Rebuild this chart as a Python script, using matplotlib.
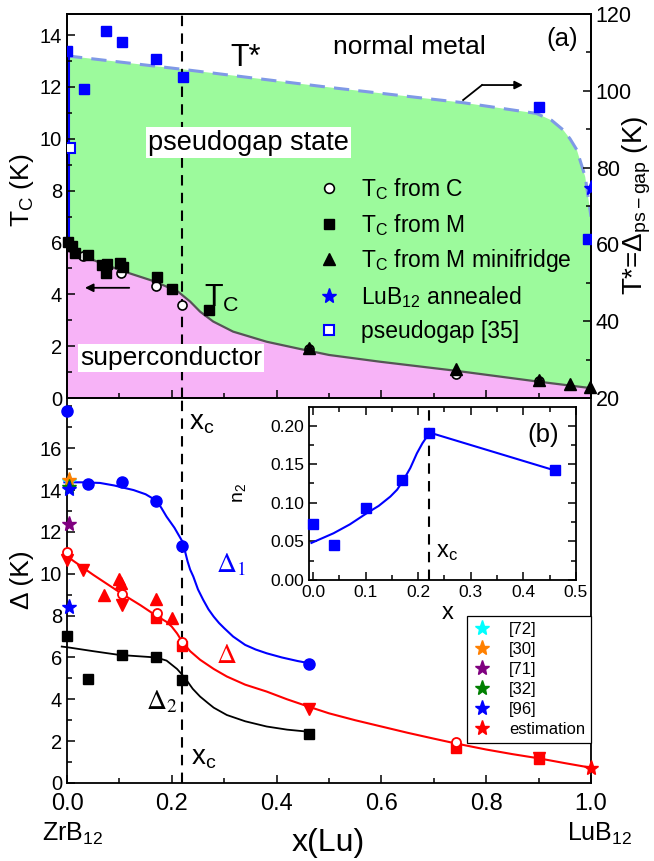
import numpy as np
import matplotlib
matplotlib.use('Agg')
import matplotlib.pyplot as plt
from matplotlib.lines import Line2D
from matplotlib.ticker import MultipleLocator

plt.rcParams['font.family'] = ['Liberation Sans', 'DejaVu Sans']
plt.rcParams['mathtext.fontset'] = 'custom'
plt.rcParams['mathtext.rm'] = 'Liberation Sans'
plt.rcParams['mathtext.it'] = 'Liberation Sans:italic'
plt.rcParams['mathtext.bf'] = 'Liberation Sans:bold'

# ---- panel (a): Tc and T* ----
tc_C_x = [0.031, 0.104, 0.170, 0.219, 0.461, 0.742, 0.901]
tc_C_y = [5.48, 4.84, 4.32, 3.59, 1.90, 0.93, 0.66]
tc_M_x = [0.002, 0.009, 0.015, 0.041, 0.067, 0.074, 0.076, 0.101, 0.106, 0.171, 0.201, 0.271]
tc_M_y = [6.00, 5.87, 5.61, 5.52, 5.13, 4.84, 5.17, 5.20, 5.05, 4.68, 4.20, 3.40]
tc_mf_x = [0.461, 0.742, 0.901, 0.960, 0.998]
tc_mf_y = [1.92, 1.11, 0.69, 0.53, 0.44]

tc_curve_x = [0.0, 0.041, 0.104, 0.168, 0.212, 0.235, 0.254, 0.279, 0.317, 0.381,
              0.445, 0.50, 0.597, 0.742, 0.90, 1.0]
tc_curve_y = [5.69, 5.39, 4.91, 4.49, 4.10, 3.72, 3.33, 2.95, 2.56, 2.17,
              1.89, 1.66, 1.40, 1.05, 0.63, 0.38]

# T* boundary (right axis, K)
tstar_curve_x = [0.0, 0.22, 0.5, 0.756, 0.896, 0.925, 0.947, 0.960, 0.973, 0.989, 1.0]
tstar_curve_y = [109.1, 105.6, 100.9, 96.9, 94.1, 92.3, 89.8, 87.5, 84.6, 77.6, 67.2]

tstar_x = [0.0, 0.032, 0.074, 0.105, 0.170, 0.221, 0.900, 0.995]
tstar_y = [110.4, 100.4, 115.6, 112.6, 108.3, 103.7, 95.9, 61.5]
annealed_x = [1.0]
annealed_y = [74.7]
pg35_x = [0.005]
pg35_y = [85.0]

# ---- panel (b): gaps ----
d1_x = [0.0, 0.041, 0.105, 0.170, 0.220, 0.461]
d1_y = [17.8, 14.3, 14.37, 13.5, 11.34, 5.69]
d1_curve_x = [-0.005, 0.0, 0.03, 0.063, 0.09, 0.11, 0.127, 0.15, 0.171, 0.18, 0.19,
              0.205, 0.22, 0.225, 0.23, 0.235, 0.241, 0.25, 0.26, 0.27, 0.28, 0.29,
              0.30, 0.317, 0.34, 0.36, 0.381, 0.41, 0.44, 0.461]
d1_curve_y = [14.37, 14.37, 14.37, 14.34, 14.22, 14.1, 14.0, 13.8, 13.49, 13.15, 12.73,
              12.2, 11.55, 11.1, 10.6, 10.2, 9.87, 9.25, 8.75, 8.3, 7.95, 7.65,
              7.4, 7.0, 6.6, 6.38, 6.2, 6.0, 5.83, 5.73]

d_open_x = [0.0, 0.105, 0.171, 0.220, 0.742]
d_open_y = [11.06, 9.04, 8.11, 6.76, 1.94]
d_sq_x = [0.170, 0.220, 0.742, 0.900]
d_sq_y = [7.87, 6.55, 1.69, 1.15]
d_down_x = [0.0, 0.031, 0.105, 0.461, 0.900]
d_down_y = [10.67, 10.16, 8.52, 3.56, 1.20]
d_up_x = [0.100, 0.104, 0.070, 0.170, 0.200]
d_up_y = [9.74, 9.55, 9.00, 8.80, 7.87]
d_curve_x = [0.0, 0.05, 0.105, 0.14, 0.17, 0.19, 0.20, 0.21, 0.22, 0.235, 0.254, 0.28,
             0.305, 0.34, 0.381, 0.42, 0.461, 0.50, 0.55, 0.60, 0.65, 0.70, 0.74,
             0.80, 0.85, 0.90, 0.95, 1.0]
d_curve_y = [10.83, 9.95, 9.04, 8.5, 8.0, 7.7, 7.47, 7.15, 6.75, 6.3, 5.89, 5.45,
             5.09, 4.7, 4.37, 4.0, 3.65, 3.33, 3.0, 2.7, 2.4, 2.12, 1.9,
             1.6, 1.38, 1.18, 0.95, 0.73]

d2_x = [0.0, 0.04, 0.105, 0.17, 0.22, 0.461]
d2_y = [7.04, 4.98, 6.12, 6.04, 4.93, 2.34]
d2_curve_x = [-0.01, 0.0, 0.05, 0.1, 0.17, 0.19, 0.2, 0.21, 0.22, 0.23, 0.24, 0.254,
              0.27, 0.28, 0.305, 0.34, 0.381, 0.42, 0.461]
d2_curve_y = [6.52, 6.49, 6.3, 6.12, 6.0, 5.85, 5.65, 5.45, 5.17, 4.85, 4.5, 4.13,
              3.8, 3.6, 3.25, 2.95, 2.7, 2.55, 2.45]

# literature stars at x = 0 and estimation at x = 1
ref_labels = ['[72]', '[30]', '[71]', '[32]', '[96]', 'estimation']
ref_colors = ['#00ffff', '#ff8000', '#800080', '#008000', '#0000ff', '#ff0000']
ref_x = [[0.003], [0.003], [0.003], [0.003], [0.003, 0.003], [1.0]]
ref_y = [[14.45], [14.5], [12.37], [14.15], [14.04, 8.43], [0.72]]

# ---- inset: n2 ----
n2_x = [0.0, 0.04, 0.1, 0.17, 0.22, 0.46]
n2_y = [0.072, 0.045, 0.093, 0.13, 0.19, 0.142]
n2_curve_x = [-0.003, 0.039, 0.07, 0.102, 0.125, 0.147, 0.16, 0.172, 0.185, 0.1975,
              0.208, 0.2165, 0.226, 0.461]
n2_curve_y = [0.048, 0.0605, 0.072, 0.0864, 0.096, 0.108, 0.117, 0.1295, 0.145, 0.164,
              0.177, 0.1856, 0.19, 0.1416]

x_c = 0.22

W, H = 654, 861
fig = plt.figure(figsize=(W / 100, H / 100), dpi=100)


def box(l, t, r, b):
    return [l / W, 1 - b / H, (r - l) / W, (b - t) / H]


ax1 = fig.add_axes(box(67, 14, 591, 398))
ax3 = fig.add_axes(box(67, 398, 591, 783))
ax1.set_zorder(2)
ax1.patch.set_visible(False)
ax2 = ax1.twinx()

left_lim = (0, 14.81)
right_lim = (20, 120)


def to_left(v):
    v = np.asarray(v)
    return (v - right_lim[0]) / (right_lim[1] - right_lim[0]) * (left_lim[1] - left_lim[0])


tstar_left = to_left(tstar_curve_y)

# fills
ax1.fill_between(tc_curve_x, 0, tc_curve_y, color='#f7b3f7', lw=0, zorder=0)
ax1.fill(np.concatenate([tc_curve_x, tstar_curve_x[::-1]]),
         np.concatenate([tc_curve_y, tstar_left[::-1]]),
         color='#9cfa9c', lw=0, zorder=0)
ax1.plot(tstar_curve_x, tstar_left, color='#7f99e6', lw=2.2, dashes=(5, 3), zorder=1)
ax1.plot([tstar_curve_x[0] + 0.003] * 2, [tc_curve_y[0], tstar_left[0]],
         color='blue', lw=1.5, zorder=1)
ax1.plot(tc_curve_x, tc_curve_y, color='#555555', lw=1.6, zorder=2)
ax1.axvline(x_c, color='black', lw=1.5, dashes=(5, 3.5), zorder=3)

ax1.plot(tc_C_x, tc_C_y, 'o', mfc='white', mec='black', mew=1.2, ms=6.5, zorder=4)
ax1.plot(tc_M_x, tc_M_y, 's', color='black', ms=7, zorder=5, clip_on=False)
ax1.plot(tc_mf_x, tc_mf_y, '^', color='black', ms=8, zorder=6, clip_on=False)

ax2.plot(tstar_x, tstar_y, 's', color='blue', ms=7, zorder=5)
ax2.plot(annealed_x, annealed_y, '*', color='blue', ms=11, zorder=5)
ax2.plot(pg35_x, pg35_y, 's', mfc='white', mec='blue', mew=1.5, ms=6.5, zorder=5)

ax1.set_xlim(0, 1)
ax1.set_ylim(*left_lim)
ax2.set_ylim(*right_lim)
ax1.yaxis.set_major_locator(MultipleLocator(2))
ax1.yaxis.set_minor_locator(MultipleLocator(1))
ax1.xaxis.set_major_locator(MultipleLocator(0.2))
ax1.xaxis.set_minor_locator(MultipleLocator(0.1))
ax2.yaxis.set_major_locator(MultipleLocator(20))
ax2.yaxis.set_minor_locator(MultipleLocator(10))
ax1.tick_params(axis='both', which='both', direction='in', labelbottom=False,
                top=False, right=False, labelsize=14.5, width=1.1)
ax1.tick_params(which='major', length=6)
ax1.tick_params(which='minor', length=3.5)
ax2.tick_params(axis='y', which='both', direction='in', labelsize=15.5, width=1.1)
ax2.tick_params(which='major', length=6)
ax2.tick_params(which='minor', length=3.5)
for a in (ax1, ax2, ax3):
    for s in a.spines.values():
        s.set_linewidth(1.3)

ax1.text(-0.085, 0.54, 'T$_\\mathrm{C}$ (K)', transform=ax1.transAxes, rotation=90,
         ha='center', va='center', fontsize=19)
fig.text(621 / W, 1 - 205 / H, 'T*=$\\Delta_{\\mathrm{ps-gap}}$ (K)', rotation=90,
         ha='left', va='center', fontsize=20)

ax1.text(0.507, 0.915, 'normal metal', transform=ax1.transAxes, fontsize=19,
         ha='left', va='center')
ax1.text(0.975, 0.935, '(a)', transform=ax1.transAxes, fontsize=18.5, ha='right',
         va='center')
ax1.text(0.311, 0.885, 'T*', transform=ax1.transAxes, fontsize=22, ha='left', va='center')
ax1.text(0.155, 0.665, 'pseudogap state', transform=ax1.transAxes, fontsize=19.5,
         ha='left', va='center', zorder=7,
         bbox=dict(facecolor='white', edgecolor='none', pad=1.5))
ax1.text(0.025, 0.105, 'superconductor', transform=ax1.transAxes, fontsize=19,
         ha='left', va='center', zorder=7,
         bbox=dict(facecolor='white', edgecolor='none', pad=1.5))
ax1.text(0.262, 0.258, 'T$_\\mathrm{C}$', transform=ax1.transAxes, fontsize=22,
         ha='left', va='center', zorder=7)
ax1.annotate('', xy=(0.029, 4.25), xytext=(0.124, 4.25),
             arrowprops=dict(arrowstyle='-|>', color='black', lw=1.3,
                             mutation_scale=12), zorder=7)
ax2.plot([0.756, 0.792], [97.6, 101.5], color='black', lw=1.3, zorder=7)
ax2.annotate('', xy=(0.870, 101.5), xytext=(0.792, 101.5),
             arrowprops=dict(arrowstyle='-|>', color='black', lw=1.3,
                             mutation_scale=12, shrinkA=0, shrinkB=0), zorder=7)

handles = [
    Line2D([], [], ls='none', marker='o', mfc='white', mec='black', mew=1.2, ms=7),
    Line2D([], [], ls='none', marker='s', color='black', ms=7),
    Line2D([], [], ls='none', marker='^', color='black', ms=8),
    Line2D([], [], ls='none', marker='*', color='blue', ms=11),
    Line2D([], [], ls='none', marker='s', mfc='white', mec='blue', mew=1.5, ms=6.5),
]
labels = ['T$_\\mathrm{C}$ from C', 'T$_\\mathrm{C}$ from M',
          'T$_\\mathrm{C}$ from M minifridge', 'LuB$_{12}$ annealed', 'pseudogap [35]']
leg = ax2.legend(handles, labels, loc='upper left', bbox_to_anchor=(0.46, 0.607),
                 frameon=False, fontsize=16.5, handlelength=0.8, handletextpad=1.0,
                 labelspacing=0.42, borderpad=0.0)

# ---- bottom panel ----
ax3.axvline(x_c, color='black', lw=1.5, dashes=(5, 3.5), zorder=1)
ax3.plot(d1_curve_x, d1_curve_y, color='blue', lw=1.5, zorder=2, clip_on=False)
ax3.plot(d_curve_x, d_curve_y, color='red', lw=1.5, zorder=2, clip_on=False)
ax3.plot(d2_curve_x, d2_curve_y, color='black', lw=1.3, zorder=2, clip_on=False)
ax3.plot(d1_x, d1_y, 'o', color='blue', ms=8, zorder=4, clip_on=False)
ax3.plot(d_up_x, d_up_y, '^', color='red', ms=8, zorder=4, clip_on=False)
ax3.plot(d_down_x, d_down_y, 'v', color='red', ms=8, zorder=4, clip_on=False)
ax3.plot(d_sq_x, d_sq_y, 's', color='red', ms=7, zorder=4, clip_on=False)
ax3.plot(d_open_x, d_open_y, 'o', mfc='white', mec='red', mew=1.3, ms=6.5, zorder=5,
         clip_on=False)
ax3.plot(d2_x, d2_y, 's', color='black', ms=7, zorder=4, clip_on=False)
star_handles = []
for lab, col, sx, sy in zip(ref_labels, ref_colors, ref_x, ref_y):
    h, = ax3.plot(sx, sy, '*', color=col, ms=11, zorder=6, clip_on=False, label=lab)
    star_handles.append(h)

ax3.set_xlim(0, 1)
ax3.set_ylim(0, 18.4)
ax3.yaxis.set_major_locator(MultipleLocator(2))
ax3.yaxis.set_minor_locator(MultipleLocator(1))
ax3.xaxis.set_major_locator(MultipleLocator(0.2))
ax3.xaxis.set_minor_locator(MultipleLocator(0.1))
ax3.tick_params(axis='both', which='both', direction='in', top=False, right=False,
                width=1.1)
ax3.tick_params(which='major', length=6)
ax3.tick_params(which='minor', length=3.5)
ax3.tick_params(axis='y', labelsize=14.5)
ax3.tick_params(axis='x', labelsize=17, pad=7)
ax3.set_yticks(np.arange(0, 17, 2))

ax3.text(-0.085, 0.527, 'Δ (K)', transform=ax3.transAxes, rotation=90,
         ha='center', va='center', fontsize=19)
fig.text(328 / W, 1 - 843 / H, 'x(Lu)', ha='center', va='center', fontsize=23)
fig.text(73 / W, 1 - 834 / H, 'ZrB$_{12}$', ha='center', va='center', fontsize=18)
fig.text(600 / W, 1 - 834 / H, 'LuB$_{12}$', ha='center', va='center', fontsize=18)

ax3.text(0.232, 0.935, 'x$_\\mathrm{c}$', transform=ax3.transAxes, fontsize=20,
         ha='left', va='center')
ax3.text(0.237, 0.065, 'x$_\\mathrm{c}$', transform=ax3.transAxes, fontsize=20,
         ha='left', va='center')
ax3.text(0.285, 0.565, '$\\Delta_1$', transform=ax3.transAxes, fontsize=20,
         color='blue', ha='left', va='center', math_fontfamily='stix')
ax3.text(0.284, 0.33, '$\\Delta$', transform=ax3.transAxes, fontsize=20,
         color='red', ha='left', va='center', math_fontfamily='stix')
ax3.text(0.150, 0.21, '$\\Delta_2$', transform=ax3.transAxes, fontsize=20,
         color='black', ha='left', va='center', math_fontfamily='stix')

leg2 = ax3.legend(star_handles, ref_labels, loc='lower right',
                  bbox_to_anchor=(1.0, 0.1047), fontsize=12, frameon=True,
                  fancybox=False, edgecolor='black', framealpha=1, numpoints=1,
                  handlelength=1.2, handletextpad=1.0, labelspacing=0.3,
                  borderpad=0.35, borderaxespad=0)
leg2.get_frame().set_linewidth(0.9)

# ---- inset ----
ax4 = fig.add_axes(box(309, 407, 576, 580))
ax4.axvline(x_c, color='black', lw=1.5, dashes=(5, 3.5), zorder=1)
ax4.plot(n2_curve_x, n2_curve_y, color='blue', lw=1.5, zorder=2)
ax4.plot(n2_x, n2_y, 's', color='blue', ms=7, zorder=3, clip_on=False)
ax4.set_xlim(-0.0076, 0.5)
ax4.set_ylim(0, 0.224)
ax4.xaxis.set_major_locator(MultipleLocator(0.1))
ax4.xaxis.set_minor_locator(MultipleLocator(0.05))
ax4.yaxis.set_major_locator(MultipleLocator(0.05))
ax4.yaxis.set_minor_locator(MultipleLocator(0.025))
ax4.tick_params(axis='both', which='both', direction='in', top=True, right=True,
                labelsize=12.5, width=1.1)
ax4.tick_params(which='major', length=6)
ax4.tick_params(which='minor', length=3.5)
ax4.set_xticks(np.arange(0, 0.51, 0.1))
ax4.set_xticklabels(['0.0', '0.1', '0.2', '0.3', '0.4', '0.5'])
ax4.set_yticks(np.arange(0, 0.21, 0.05))
ax4.set_yticklabels(['0.00', '0.05', '0.10', '0.15', '0.20'])
for s in ax4.spines.values():
    s.set_linewidth(1.3)
ax4.text(-0.26, 0.5, 'n$_2$', transform=ax4.transAxes, rotation=90, ha='center',
         va='center', fontsize=14)
fig.text(448 / W, 1 - 613 / H, 'x', ha='center', va='center', fontsize=17)
ax4.text(0.935, 0.84, '(b)', transform=ax4.transAxes, fontsize=18.5, ha='right',
         va='center')
ax4.text(0.475, 0.16, 'x$_\\mathrm{c}$', transform=ax4.transAxes, fontsize=17,
         ha='left', va='center')

fig.savefig('out.png', dpi=100)
